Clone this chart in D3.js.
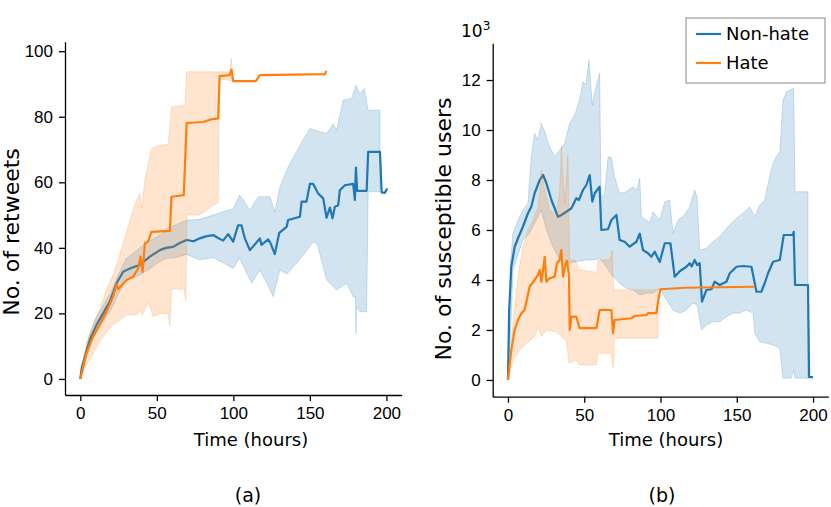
<!DOCTYPE html>
<html>
<head>
<meta charset="utf-8">
<script src="https://cdnjs.cloudflare.com/ajax/libs/d3/7.8.5/d3.min.js"></script>
<style>
body { margin: 0; background: #fff; }
svg { font-family: "DejaVu Sans", sans-serif; }
.axis text { font-size: 17px; fill: #000; }
.axis path, .axis line { stroke: #000; stroke-width: 1.3px; }
.label { font-size: 18px; fill: #000; }
</style>
</head>
<body>
<svg id="chart" width="831" height="507"></svg>
<script>

// ---- panel (a): retweets ----
var rtNonHateMean = [[0,0],[1,3.5],[3,6.8],[6.2,11.9],[10.6,16.5],[14.9,20],[19.3,23.6],[23.7,29.2],[28,32.7],[32.4,33.7],[38.9,34.8],[45.4,37.3],[52,39.3],[56,40],[60.6,40.3],[65,41.5],[69.4,42.4],[74,42],[78,42.9],[82,43.5],[86.8,43.9],[90,43],[93.3,42.2],[96.6,44.2],[99.9,41.9],[103.1,46.9],[105.3,46.9],[107.5,42.9],[110.8,39.3],[114,41],[117.3,42.9],[118.4,40.9],[122.7,42.6],[124.2,41.5],[127.1,38.1],[130,44.6],[134.8,46.4],[135.8,48.5],[143.5,49.5],[144.6,54.1],[147.8,54.1],[150,59.5],[152.2,59.5],[155.4,56.6],[158.7,55.1],[160.9,49.2],[163.1,52.3],[164.8,49],[166.3,52.5],[168.5,53],[169.6,57.6],[172.9,59.1],[178.3,59.5],[179.4,54.6],[180.1,64.5],[180.9,57.4],[187.1,57.4],[188.1,69.3],[195.8,69.3],[196.9,56.9],[199,56.8],[200.5,58.1]];
var rtNonHateUpper = [[0,0],[3,8],[6,13.5],[10,18.5],[15,22.5],[20,26.5],[25,32],[30.2,36.8],[35,38.5],[40,40.5],[45,42],[52,43.9],[56.3,45.9],[62,47],[69.4,48.4],[78,48.7],[86.8,50],[93.3,51],[99.9,52],[104,56.1],[106,55],[110.8,51.5],[116.2,55.6],[123.9,55.6],[127.1,51],[130.4,58.6],[135.8,64.7],[143.5,71.3],[150,76.4],[156.5,75.4],[160.9,74.9],[165.2,77.9],[167.4,75.9],[171.8,85.1],[177.3,85.6],[180.1,89.6],[182.7,87.1],[185.5,88.6],[188.1,82],[195.8,82]];
var rtNonHateLower = [[0,0],[3,5.5],[6,10],[10,14.5],[15,17.5],[20,21],[25,26],[30.2,30.2],[35,31],[40,32],[45,33.5],[52,35.8],[56.3,36.8],[62,37],[69.5,38],[78,36.3],[86.8,37],[93,35.5],[99.9,33.7],[104,37],[107,34],[111.9,29.2],[117.3,33.2],[121,30],[126,25.1],[130.4,33.2],[135,32],[141.3,35.3],[146,38],[152.2,41.9],[155,40.9],[160.9,30.2],[167.4,27.1],[174,29.2],[178.3,25.1],[179.8,25],[180.1,13.9],[180.5,22],[182.7,20.5],[187.1,20.5],[188.1,57.1],[195.8,57.1]];

var rtHateMean = [[0,0],[4,7.8],[8.4,12.9],[12.7,16.5],[17.1,20.5],[21.4,25.1],[23.7,28.7],[24.8,27.4],[30.2,30.2],[34.5,31.2],[37.8,33.7],[39.3,37.3],[40.7,32.7],[42.2,41.4],[44.3,41.9],[46.5,44.9],[58.5,45.2],[59.6,55.6],[67.6,56.1],[69.5,78.1],[80.3,78.4],[84.6,79.1],[90.1,79.5],[91,92.4],[97.5,92.7],[98.8,94.4],[99.9,90.9],[114.7,90.9],[117.3,92.7],[159.8,93],[160.9,94]];
var rtHateUpper = [[0,0],[4,10.9],[8.4,16.5],[12.7,21],[17.1,27.1],[21.4,31.7],[25.8,37.8],[30.2,44.9],[32.4,48.5],[36.7,54.6],[38.9,56.6],[40,52],[42.2,60.7],[46.5,70.3],[52,71.3],[57.4,71.5],[59.6,83],[68.3,83.5],[69.4,93.7],[97.7,93.7],[98.8,97.8],[99.4,93]];
var rtHateLower = [[0,0],[4,4.3],[8.4,7.8],[12.7,11.4],[17.1,14.4],[21.4,16.5],[25.8,18],[30.2,19.5],[36.7,19.5],[38.9,21],[40.5,19.5],[44.3,23.6],[47.6,19],[52,20],[57.4,20],[58.5,16.2],[59.6,27.1],[61.8,27.6],[66.1,27.1],[67.6,28.1],[68.9,24.1],[69.8,50],[78,50],[86.8,53],[90.1,53.6],[91,91.5],[99.4,91]];

// ---- panel (b): susceptible users (x10^3) ----
var suNonHateMean = [[0,0],[0.8,2.8],[2.2,4.53],[4.4,5.33],[6.6,5.67],[9.8,6.13],[13.1,6.67],[15.3,6.93],[17.5,7.47],[20.8,8.0],[23,8.2],[25.2,7.87],[28.5,7.2],[32.8,6.53],[35,6.6],[38.3,6.73],[41.6,6.87],[44.8,7.27],[46.5,7.2],[49.2,7.6],[51.4,7.8],[53.6,8.2],[55.3,7.13],[56.9,7.47],[60.1,7.73],[61.2,6.0],[65.6,6.03],[67.8,6.4],[71.1,6.6],[73.2,5.6],[76.5,5.53],[79.8,5.33],[84.2,5.53],[86.4,5.85],[88.5,5.2],[91.8,5.07],[94,4.93],[96.2,5.13],[99.5,4.72],[102.8,5.47],[106.5,5.47],[109.3,4.13],[112.6,4.35],[117,4.53],[119.1,4.67],[120.5,4.55],[122.4,4.8],[124,4.6],[125.7,4.67],[127.2,3.13],[130.1,3.6],[133.4,3.63],[135.5,3.93],[138.8,3.8],[143.2,3.93],[145.4,4.27],[149.8,4.53],[154.1,4.56],[159.6,4.53],[161.8,3.87],[162.9,3.53],[166.1,3.53],[168.3,3.87],[170.5,4.27],[173.8,4.73],[178.2,4.8],[180.8,5.8],[186.9,5.8],[187.3,5.93],[188.2,3.8],[196.7,3.8],[197.4,0.11],[200,0.11]];
var suNonHateUpper = [[0,0],[1.6,4.67],[3.3,5.87],[6.6,6.4],[9.8,6.8],[13.1,7.07],[15.3,8.93],[17.5,9.87],[19.5,9.6],[21.9,10.27],[24.1,9.93],[27.3,9.33],[30.6,8.93],[33.9,9.2],[37.2,9.47],[40.4,10.27],[43.7,10.6],[46.6,11.13],[49.2,11.93],[51,11.8],[53.1,12.8],[55.3,11],[58,11.8],[60.1,12.27],[61,7.33],[63.4,7.47],[65.6,8.93],[67.8,8.9],[70,8.13],[73.2,7.47],[77.6,7.53],[82,7.73],[84.5,7.6],[86.4,8.07],[87.5,6.53],[92.9,6.3],[95.1,6.73],[99.5,6.4],[102.8,7.13],[106,7.2],[108.2,5.87],[111.5,6.4],[114.8,6.53],[119.1,6.93],[122.4,7.6],[124,7.3],[125.7,5.2],[130.1,5.27],[134.4,5.53],[138.8,5.73],[143.2,6.07],[149.8,6.47],[154.1,6.67],[158.5,6.93],[161.8,6.53],[165,7.0],[168.3,7.2],[171.5,8.13],[173.8,8.67],[175.9,8.93],[178.2,9.13],[180.3,11.2],[182.5,11.53],[187.3,11.67],[188.2,7.53],[196.7,7.53]];
var suNonHateLower = [[0,0],[1.5,1.5],[3.3,4.4],[9.8,5.6],[14.2,5.87],[18.6,6.4],[21.9,6.8],[25.2,6.0],[28.5,5.47],[32.8,4.93],[36.1,4.67],[40.4,4.67],[44.8,4.73],[51.4,4.8],[56.9,4.8],[60.1,4.87],[64.5,4.53],[68.9,4.13],[73.2,3.87],[77.6,3.67],[82,3.6],[86.4,3.4],[90.8,3.47],[95.1,3.47],[99.5,3.67],[103.9,3.2],[108.2,2.8],[112.6,2.67],[117,2.8],[121.3,3.07],[124,3.0],[125.7,2.4],[126.8,2.0],[130.1,2.2],[134.4,2.33],[138.8,2.33],[143.2,2.53],[147.5,2.67],[151.9,2.67],[156.3,2.8],[160.7,2.67],[161.8,1.87],[165,1.53],[169.4,1.47],[173.8,1.4],[178.2,1.27],[180.3,0.07],[185.6,0.07],[187.3,0.4],[188.2,0.07],[196.7,0.07]];

var suHateMean = [[0,0],[2.2,1.2],[4.4,2.0],[6.6,2.4],[8.8,2.67],[10.9,2.8],[14.2,3.73],[17.5,4.0],[19.7,4.2],[20.8,4.4],[21.9,3.93],[23,4.4],[24.1,4.93],[25.2,3.93],[27.3,4.07],[30.6,4.13],[32.1,4.67],[33.9,4.8],[35,5.2],[36.1,4.13],[37.6,4.6],[38.7,4.77],[40,4.2],[40.5,2.0],[41.6,2.53],[44.8,2.53],[47,2.07],[58,2.07],[60.1,2.8],[67.8,2.8],[68.9,1.87],[69.9,2.4],[80.9,2.47],[83.1,2.56],[90.8,2.6],[91.8,2.67],[97.3,2.67],[98.4,3.13],[99.9,3.63],[115.9,3.69],[161.8,3.73]];
var suHateUpper = [[0,0],[3.3,2.27],[5.5,3.6],[7.7,4.53],[9.8,5.33],[13.1,6.0],[16.4,6.4],[19.7,6.93],[21.9,8.4],[24.1,7.6],[27.3,6.8],[31.7,6.6],[33.9,7.6],[35,9.33],[37.2,7.07],[39.3,9.0],[40.5,4.8],[44,4.8],[47,4.4],[55.7,4.33],[58.4,4.27],[59,4.8],[66.7,4.8],[68.4,5.2],[69.3,3.6],[97.3,3.6],[98.4,3.65]];
var suHateLower = [[0,0],[3.3,0.8],[7.7,1.2],[12.1,1.47],[17.5,1.73],[19.7,2.13],[21.9,1.73],[25.2,2.0],[31.7,1.93],[35,1.73],[38.3,1.6],[40,0.67],[44.8,0.8],[47,0.6],[58,0.6],[59,1.07],[67.8,1.07],[68.9,0.47],[69.9,1.67],[98.4,1.67]];

var xTicks = [0, 50, 100, 150, 200];
var rtTicks = [0, 20, 40, 60, 80, 100];
var suTicks = [0, 2, 4, 6, 8, 10, 12];
var seriesNames = ["Non-hate", "Hate"];
var colors = ["#1f77b4", "#ff7f0e"];

var svg = d3.select("#chart");

function drawPanel(p) {
	var x = d3.scaleLinear().domain([-10, 210]).range([p.left, p.right]),
		y = d3.scaleLinear().domain(p.yDomain).range([p.bottom, p.top]);

	var line = d3.line()
		.x(function (d) { return x(d[0]); })
		.y(function (d) { return y(d[1]); });

	p.series.forEach(function (s, i) {
		svg.append("path")
			.attr("d", line(s.upper.concat(s.lower.slice().reverse())) + "Z")
			.attr("fill", colors[i])
			.attr("fill-opacity", 0.2)
			.attr("stroke", colors[i])
			.attr("stroke-opacity", 0.2)
			.attr("stroke-width", 1);
		svg.append("path")
			.attr("d", line(s.mean))
			.attr("fill", "none")
			.attr("stroke", colors[i])
			.attr("stroke-width", 2.2)
			.attr("stroke-linejoin", "round");
	});

	svg.append("g")
		.attr("class", "axis")
		.attr("transform", "translate(0," + p.bottom + ")")
		.call(d3.axisBottom(x).tickValues(xTicks).tickSize(6).tickSizeOuter(0).tickPadding(6));

	svg.append("g")
		.attr("class", "axis")
		.attr("transform", "translate(" + p.left + ",0)")
		.call(d3.axisLeft(y).tickValues(p.yTicks).tickSize(6).tickSizeOuter(0).tickPadding(6));

	svg.append("text")
		.attr("class", "label")
		.attr("text-anchor", "middle")
		.attr("x", p.xLabelX)
		.attr("y", 446)
		.text("Time (hours)");

	svg.append("text")
		.attr("text-anchor", "middle")
		.attr("font-size", "19px")
		.attr("x", p.captionX)
		.attr("y", 502)
		.text(p.caption);

	svg.append("text")
		.attr("text-anchor", "middle")
		.attr("font-size", "22px")
		.attr("transform", "translate(" + p.yLabelX + "," + p.yLabelY + ") rotate(-90)")
		.text(p.yLabel);
}

drawPanel({
	left: 65, right: 401.7, top: 41.7, bottom: 395,
	yDomain: [-4.9, 102.9], yTicks: rtTicks,
	series: [
		{ mean: rtNonHateMean, upper: rtNonHateUpper, lower: rtNonHateLower },
		{ mean: rtHateMean, upper: rtHateUpper, lower: rtHateLower }
	],
	xLabelX: 251, captionX: 248, caption: "(a)",
	yLabel: "No. of retweets", yLabelX: 19, yLabelY: 232
});

drawPanel({
	left: 492.7, right: 828.3, top: 43.3, bottom: 396.7,
	yDomain: [-0.67, 13.47], yTicks: suTicks,
	series: [
		{ mean: suNonHateMean, upper: suNonHateUpper, lower: suNonHateLower },
		{ mean: suHateMean, upper: suHateUpper, lower: suHateLower }
	],
	xLabelX: 666, captionX: 662, caption: "(b)",
	yLabel: "No. of susceptible users", yLabelX: 451, yLabelY: 229
});

// offset text for panel (b)
var offset = svg.append("text")
	.attr("x", 461)
	.attr("y", 37)
	.attr("font-size", "17px");
offset.append("tspan").text("10");
offset.append("tspan").attr("dy", -7).attr("font-size", "12px").text("3");

// legend
var legend = svg.append("g").attr("transform", "translate(686,18)");
legend.append("rect")
	.attr("width", 139)
	.attr("height", 65)
	.attr("fill", "#fff")
	.attr("stroke", "#888")
	.attr("stroke-width", 1);
seriesNames.forEach(function (name, i) {
	var row = legend.append("g").attr("transform", "translate(0," + (16 + i * 29) + ")");
	row.append("line")
		.attr("x1", 10).attr("x2", 35)
		.attr("stroke", colors[i])
		.attr("stroke-width", 2.2);
	row.append("text")
		.attr("class", "label")
		.attr("x", 40)
		.attr("y", 6)
		.text(name);
});

</script>
</body>
</html>
